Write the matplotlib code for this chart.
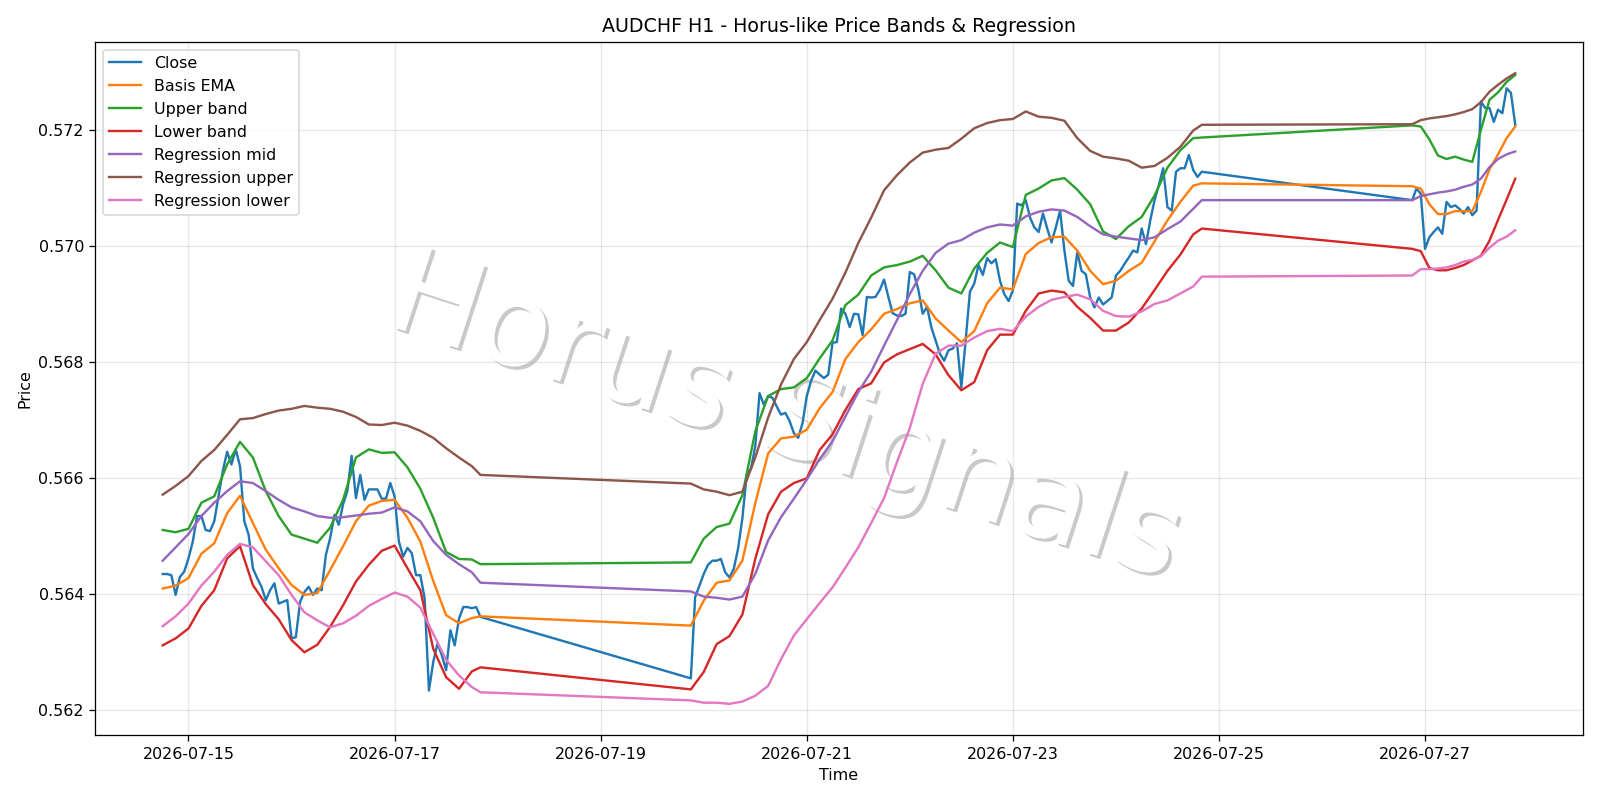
import matplotlib
matplotlib.use("Agg")
import matplotlib.pyplot as plt
import matplotlib.dates as mdates
import matplotlib.patheffects as pe
import pandas as pd

# ---------------- data (hours relative to 2026-07-15 00:00) ----------------
base_time = "2026-07-15 00:00"

close_hours = list(range(-6, 69)) + list(range(117, 237)) + list(range(285, 310))
close = [
    # 07-14 18:00 .. 07-17 20:00
    0.56434, 0.56434, 0.56432, 0.56398, 0.56429, 0.56438, 0.56461, 0.56490, 0.56534, 0.56534,
    0.56510, 0.56508, 0.56525, 0.56568, 0.56612, 0.56645, 0.56623, 0.56649, 0.56620, 0.56525,
    0.56502, 0.56444, 0.56427, 0.56412, 0.56389, 0.56406, 0.56418, 0.56383, 0.56386, 0.56389,
    0.56323, 0.56325, 0.56386, 0.56403, 0.56412, 0.56398, 0.56409, 0.56406, 0.56467, 0.56496,
    0.56536, 0.56519, 0.56554, 0.56577, 0.56638, 0.56565, 0.56605, 0.56562, 0.56580, 0.56580,
    0.56580, 0.56564, 0.56564, 0.56591, 0.56568, 0.56490, 0.56464, 0.56479, 0.56470, 0.56432,
    0.56432, 0.56392, 0.56233, 0.56282, 0.56314, 0.56294, 0.56268, 0.56337, 0.56311, 0.56357,
    0.56377, 0.56377, 0.56375, 0.56377, 0.56360,
    # 07-19 21:00 .. 07-24 20:00
    0.56254, 0.56394, 0.56414, 0.56434, 0.56450, 0.56457, 0.56457, 0.56460, 0.56437, 0.56428,
    0.56443, 0.56478, 0.56530, 0.56605, 0.56616, 0.56654, 0.56746, 0.56726, 0.56741, 0.56738,
    0.56723, 0.56709, 0.56712, 0.56698, 0.56677, 0.56669, 0.56694, 0.56741, 0.56767, 0.56785,
    0.56778, 0.56772, 0.56778, 0.56833, 0.56834, 0.56892, 0.56883, 0.56860, 0.56883, 0.56882,
    0.56846, 0.56912, 0.56911, 0.56912, 0.56924, 0.56942, 0.56912, 0.56884, 0.56880, 0.56879,
    0.56883, 0.56955, 0.56951, 0.56924, 0.56883, 0.56895, 0.56860, 0.56837, 0.56814, 0.56802,
    0.56820, 0.56823, 0.56832, 0.56756, 0.56837, 0.56921, 0.56935, 0.56967, 0.56950, 0.56979,
    0.56970, 0.56977, 0.56940, 0.56917, 0.56905, 0.56923, 0.57073, 0.57070, 0.57079, 0.57049,
    0.57032, 0.57024, 0.57056, 0.57030, 0.57006, 0.57032, 0.57061, 0.56992, 0.56940, 0.56931,
    0.56989, 0.56957, 0.56951, 0.56911, 0.56894, 0.56911, 0.56899, 0.56905, 0.56911, 0.56949,
    0.56957, 0.56969, 0.56980, 0.56992, 0.56989, 0.57030, 0.57003, 0.57044, 0.57079, 0.57105,
    0.57134, 0.57067, 0.57061, 0.57128, 0.57134, 0.57134, 0.57157, 0.57131, 0.57119, 0.57128,
    # 07-26 21:00 .. 07-27 21:00
    0.57079, 0.57099, 0.57090, 0.56995, 0.57015, 0.57024, 0.57032, 0.57021, 0.57076, 0.57067,
    0.57070, 0.57064, 0.57056, 0.57067, 0.57053, 0.57061, 0.57249, 0.57238, 0.57238, 0.57214,
    0.57235, 0.57229, 0.57272, 0.57264, 0.57209,
]

band_hours = (list(range(-6, 67, 3)) + [68]
              + list(range(117, 235, 3)) + [236]
              + list(range(285, 310, 2)))

basis_ema = [
    0.56409, 0.56414, 0.56427, 0.56469, 0.56487, 0.56539, 0.56569, 0.56522, 0.56476, 0.56444,
    0.56415, 0.56398, 0.56401, 0.56441, 0.56482, 0.56525, 0.56552, 0.56560, 0.56562, 0.56531,
    0.56490, 0.56422, 0.56363, 0.56349, 0.56358, 0.56361,
    0.56345, 0.56388, 0.56419, 0.56423, 0.56457, 0.56556, 0.56642, 0.56668, 0.56671, 0.56683,
    0.56720, 0.56748, 0.56805, 0.56834, 0.56856, 0.56883, 0.56891, 0.56901, 0.56906, 0.56875,
    0.56854, 0.56834, 0.56853, 0.56901, 0.56928, 0.56925, 0.56986, 0.57005, 0.57015, 0.57016,
    0.56992, 0.56957, 0.56934, 0.56940, 0.56957, 0.56971, 0.57008, 0.57044, 0.57076, 0.57104,
    0.57108,
    0.57103, 0.57099, 0.57072, 0.57055, 0.57055, 0.57060, 0.57060, 0.57060, 0.57093, 0.57132,
    0.57158, 0.57186, 0.57206,
]

upper_band = [
    0.56510, 0.56506, 0.56512, 0.56557, 0.56568, 0.56623, 0.56662, 0.56635, 0.56577, 0.56534,
    0.56502, 0.56495, 0.56488, 0.56514, 0.56562, 0.56635, 0.56649, 0.56643, 0.56644, 0.56618,
    0.56581, 0.56531, 0.56472, 0.56460, 0.56459, 0.56451,
    0.56454, 0.56495, 0.56515, 0.56521, 0.56570, 0.56680, 0.56741, 0.56753, 0.56756, 0.56772,
    0.56806, 0.56837, 0.56898, 0.56916, 0.56949, 0.56963, 0.56967, 0.56973, 0.56983, 0.56958,
    0.56928, 0.56918, 0.56961, 0.56988, 0.57006, 0.56998, 0.57088, 0.57099, 0.57113, 0.57117,
    0.57097, 0.57072, 0.57025, 0.57012, 0.57034, 0.57050, 0.57087, 0.57135, 0.57165, 0.57186,
    0.57187,
    0.57208, 0.57206, 0.57184, 0.57156, 0.57150, 0.57154, 0.57149, 0.57145, 0.57200, 0.57252,
    0.57265, 0.57283, 0.57295,
]

lower_band = [
    0.56311, 0.56323, 0.56340, 0.56379, 0.56406, 0.56461, 0.56482, 0.56415, 0.56382, 0.56356,
    0.56320, 0.56299, 0.56312, 0.56343, 0.56380, 0.56421, 0.56450, 0.56474, 0.56483, 0.56444,
    0.56406, 0.56305, 0.56256, 0.56236, 0.56266, 0.56273,
    0.56235, 0.56265, 0.56313, 0.56327, 0.56364, 0.56460, 0.56537, 0.56576, 0.56591, 0.56599,
    0.56648, 0.56675, 0.56717, 0.56753, 0.56763, 0.56799, 0.56813, 0.56822, 0.56831, 0.56813,
    0.56777, 0.56751, 0.56765, 0.56820, 0.56847, 0.56847, 0.56888, 0.56918, 0.56923, 0.56920,
    0.56895, 0.56876, 0.56854, 0.56854, 0.56868, 0.56892, 0.56924, 0.56957, 0.56985, 0.57020,
    0.57030,
    0.56995, 0.56991, 0.56962, 0.56958, 0.56958, 0.56962, 0.56967, 0.56975, 0.56983, 0.57009,
    0.57045, 0.57080, 0.57116,
]

reg_mid = [
    0.56457, 0.56480, 0.56503, 0.56534, 0.56557, 0.56577, 0.56594, 0.56591, 0.56577, 0.56562,
    0.56549, 0.56542, 0.56534, 0.56531, 0.56532, 0.56535, 0.56538, 0.56540, 0.56549, 0.56542,
    0.56525, 0.56491, 0.56467, 0.56451, 0.56437, 0.56419,
    0.56404, 0.56395, 0.56393, 0.56390, 0.56395, 0.56434, 0.56492, 0.56532, 0.56564, 0.56597,
    0.56632, 0.56663, 0.56706, 0.56748, 0.56783, 0.56828, 0.56872, 0.56917, 0.56957, 0.56988,
    0.57004, 0.57010, 0.57023, 0.57032, 0.57037, 0.57035, 0.57051, 0.57059, 0.57063, 0.57061,
    0.57050, 0.57034, 0.57020, 0.57016, 0.57013, 0.57010, 0.57015, 0.57029, 0.57042, 0.57064,
    0.57079,
    0.57079, 0.57086, 0.57089, 0.57092, 0.57094, 0.57097, 0.57102, 0.57106, 0.57116, 0.57136,
    0.57150, 0.57158, 0.57163,
]

reg_upper = [
    0.56571, 0.56586, 0.56603, 0.56629, 0.56648, 0.56674, 0.56701, 0.56703, 0.56710, 0.56716,
    0.56719, 0.56724, 0.56721, 0.56719, 0.56714, 0.56705, 0.56692, 0.56691, 0.56695, 0.56690,
    0.56681, 0.56669, 0.56651, 0.56635, 0.56620, 0.56605,
    0.56590, 0.56580, 0.56576, 0.56570, 0.56576, 0.56635, 0.56704, 0.56761, 0.56805, 0.56834,
    0.56872, 0.56909, 0.56954, 0.57005, 0.57049, 0.57096, 0.57122, 0.57144, 0.57161, 0.57166,
    0.57169, 0.57185, 0.57203, 0.57212, 0.57217, 0.57219, 0.57232, 0.57223, 0.57221, 0.57216,
    0.57186, 0.57164, 0.57154, 0.57151, 0.57147, 0.57135, 0.57138, 0.57152, 0.57171, 0.57199,
    0.57209,
    0.57210, 0.57217, 0.57220, 0.57222, 0.57224, 0.57227, 0.57231, 0.57236, 0.57248, 0.57266,
    0.57278, 0.57289, 0.57298,
]

reg_lower = [
    0.56344, 0.56361, 0.56383, 0.56414, 0.56438, 0.56467, 0.56486, 0.56480, 0.56456, 0.56432,
    0.56398, 0.56368, 0.56354, 0.56342, 0.56349, 0.56362, 0.56379, 0.56391, 0.56402, 0.56395,
    0.56376, 0.56331, 0.56286, 0.56259, 0.56239, 0.56230,
    0.56216, 0.56212, 0.56212, 0.56210, 0.56214, 0.56224, 0.56241, 0.56287, 0.56328, 0.56356,
    0.56384, 0.56411, 0.56445, 0.56480, 0.56522, 0.56565, 0.56627, 0.56686, 0.56762, 0.56814,
    0.56828, 0.56828, 0.56842, 0.56853, 0.56857, 0.56853, 0.56878, 0.56895, 0.56907, 0.56912,
    0.56916, 0.56908, 0.56888, 0.56879, 0.56878, 0.56887, 0.56900, 0.56906, 0.56918, 0.56930,
    0.56947,
    0.56949, 0.56960, 0.56960, 0.56961, 0.56963, 0.56967, 0.56973, 0.56976, 0.56982, 0.56997,
    0.57009, 0.57016, 0.57027,
]

labels = ["Close", "Basis EMA", "Upper band", "Lower band",
          "Regression mid", "Regression upper", "Regression lower"]
title = "AUDCHF H1 - Horus-like Price Bands & Regression"
watermark = "Horus Signals"

# ---------------- plotting ----------------
t0 = pd.Timestamp(base_time)
close_t = t0 + pd.to_timedelta(close_hours, unit="h")
band_t = t0 + pd.to_timedelta(band_hours, unit="h")

fig, ax = plt.subplots(figsize=(14, 7), dpi=800 / 7)

ax.plot(close_t, close, label=labels[0])
ax.plot(band_t, basis_ema, label=labels[1])
ax.plot(band_t, upper_band, label=labels[2])
ax.plot(band_t, lower_band, label=labels[3])
ax.plot(band_t, reg_mid, label=labels[4])
ax.plot(band_t, reg_upper, label=labels[5])
ax.plot(band_t, reg_lower, label=labels[6])

ax.set_title(title)
ax.set_xlabel("Time")
ax.set_ylabel("Price")
ax.grid(True, alpha=0.3)
ax.legend(loc="upper left")

ax.xaxis.set_major_locator(mdates.DayLocator(interval=2))
ax.xaxis.set_major_formatter(mdates.DateFormatter("%Y-%m-%d"))

ax.text(0.491, 0.475, watermark, transform=fig.transFigure,
        fontsize=76, color="white", rotation=-18,
        ha="center", va="center", zorder=0,
        path_effects=[pe.withSimplePatchShadow()])

fig.tight_layout()
fig.savefig("out.png", dpi=800 / 7)
